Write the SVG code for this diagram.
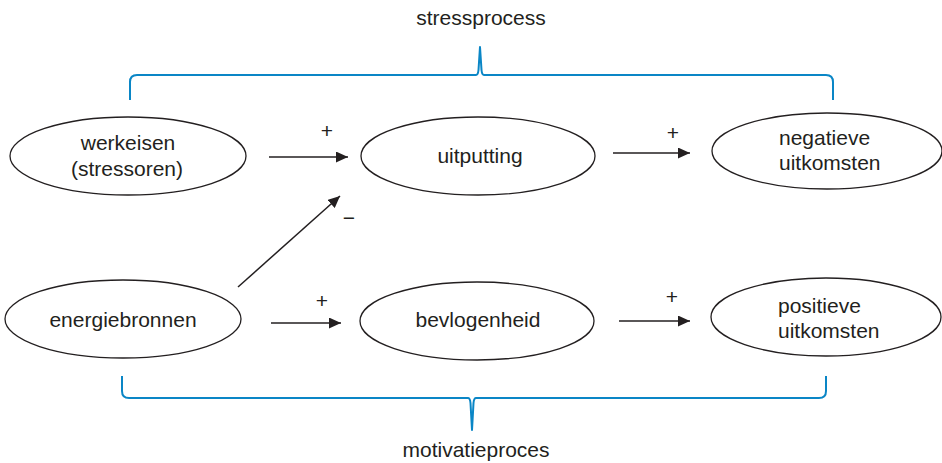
<svg xmlns="http://www.w3.org/2000/svg" width="942" height="463" viewBox="0 0 942 463">
<defs>
<marker id="ah" markerWidth="12" markerHeight="11" refX="12" refY="5.5" orient="auto" markerUnits="userSpaceOnUse">
<path d="M0,0 L12,5.5 L0,11 Z" fill="#231f20"/>
</marker>
<style>
.node ellipse{fill:#fff;stroke:#231f20;stroke-width:1.3}
text{font-family:"Liberation Sans",Arial,sans-serif;font-size:21px;fill:#231f20}
.c{text-anchor:middle}
.sign{font-size:21px}
.edge{stroke:#231f20;stroke-width:1.5;fill:none;marker-end:url(#ah)}
.brace{stroke:#0a86c6;stroke-width:2;fill:none;stroke-linejoin:round}
</style>
</defs>
<rect width="942" height="463" fill="#fff"/>
<g id="brackets">
<path class="brace" d="M130,100 V82 Q130,75 137,75 H476 Q478,75 478.5,70 L480,47 L481.5,70 Q482,75 484,75 H826 Q833,75 833,82 V100"/>
<text class="c" x="481" y="25">stressprocess</text>
<path class="brace" d="M122,376 V391 Q122,398 129,398 H468 Q470,398 470.5,403 L472,430 L473.5,403 Q474,398 476,398 H819 Q826,398 826,391 V376"/>
<text class="c" x="476" y="457">motivatieproces</text>
</g>
<g id="werkeisen" class="node">
<ellipse cx="128" cy="156" rx="118" ry="39"/>
<text class="c" x="128" y="150">werkeisen</text>
<text class="c" x="127" y="176">(stressoren)</text>
</g>
<g id="uitputting" class="node">
<ellipse cx="478" cy="156" rx="117" ry="39"/>
<text class="c" x="480" y="163">uitputting</text>
</g>
<g id="negatieve" class="node">
<ellipse cx="827" cy="151" rx="115" ry="38"/>
<text x="779" y="145">negatieve</text>
<text x="779" y="170">uitkomsten</text>
</g>
<g id="energiebronnen" class="node">
<ellipse cx="123" cy="319" rx="118" ry="39"/>
<text class="c" x="123" y="327">energiebronnen</text>
</g>
<g id="bevlogenheid" class="node">
<ellipse cx="477" cy="321" rx="117" ry="39"/>
<text class="c" x="478" y="327">bevlogenheid</text>
</g>
<g id="positieve" class="node">
<ellipse cx="826" cy="317" rx="115" ry="39"/>
<text x="778" y="313">positieve</text>
<text x="778" y="338">uitkomsten</text>
</g>
<g id="connectors">
<line class="edge" x1="269" y1="157" x2="348" y2="157"/>
<text class="c sign" x="327" y="138">+</text>
<line class="edge" x1="613" y1="153" x2="690" y2="153"/>
<text class="c sign" x="673" y="140">+</text>
<line class="edge" x1="238" y1="287" x2="340" y2="196"/>
<text class="c sign" x="349" y="225">−</text>
<line class="edge" x1="271" y1="323" x2="341" y2="323"/>
<text class="c sign" x="322" y="308">+</text>
<line class="edge" x1="619" y1="321" x2="690" y2="321"/>
<text class="c sign" x="672" y="304">+</text>
</g>
</svg>
